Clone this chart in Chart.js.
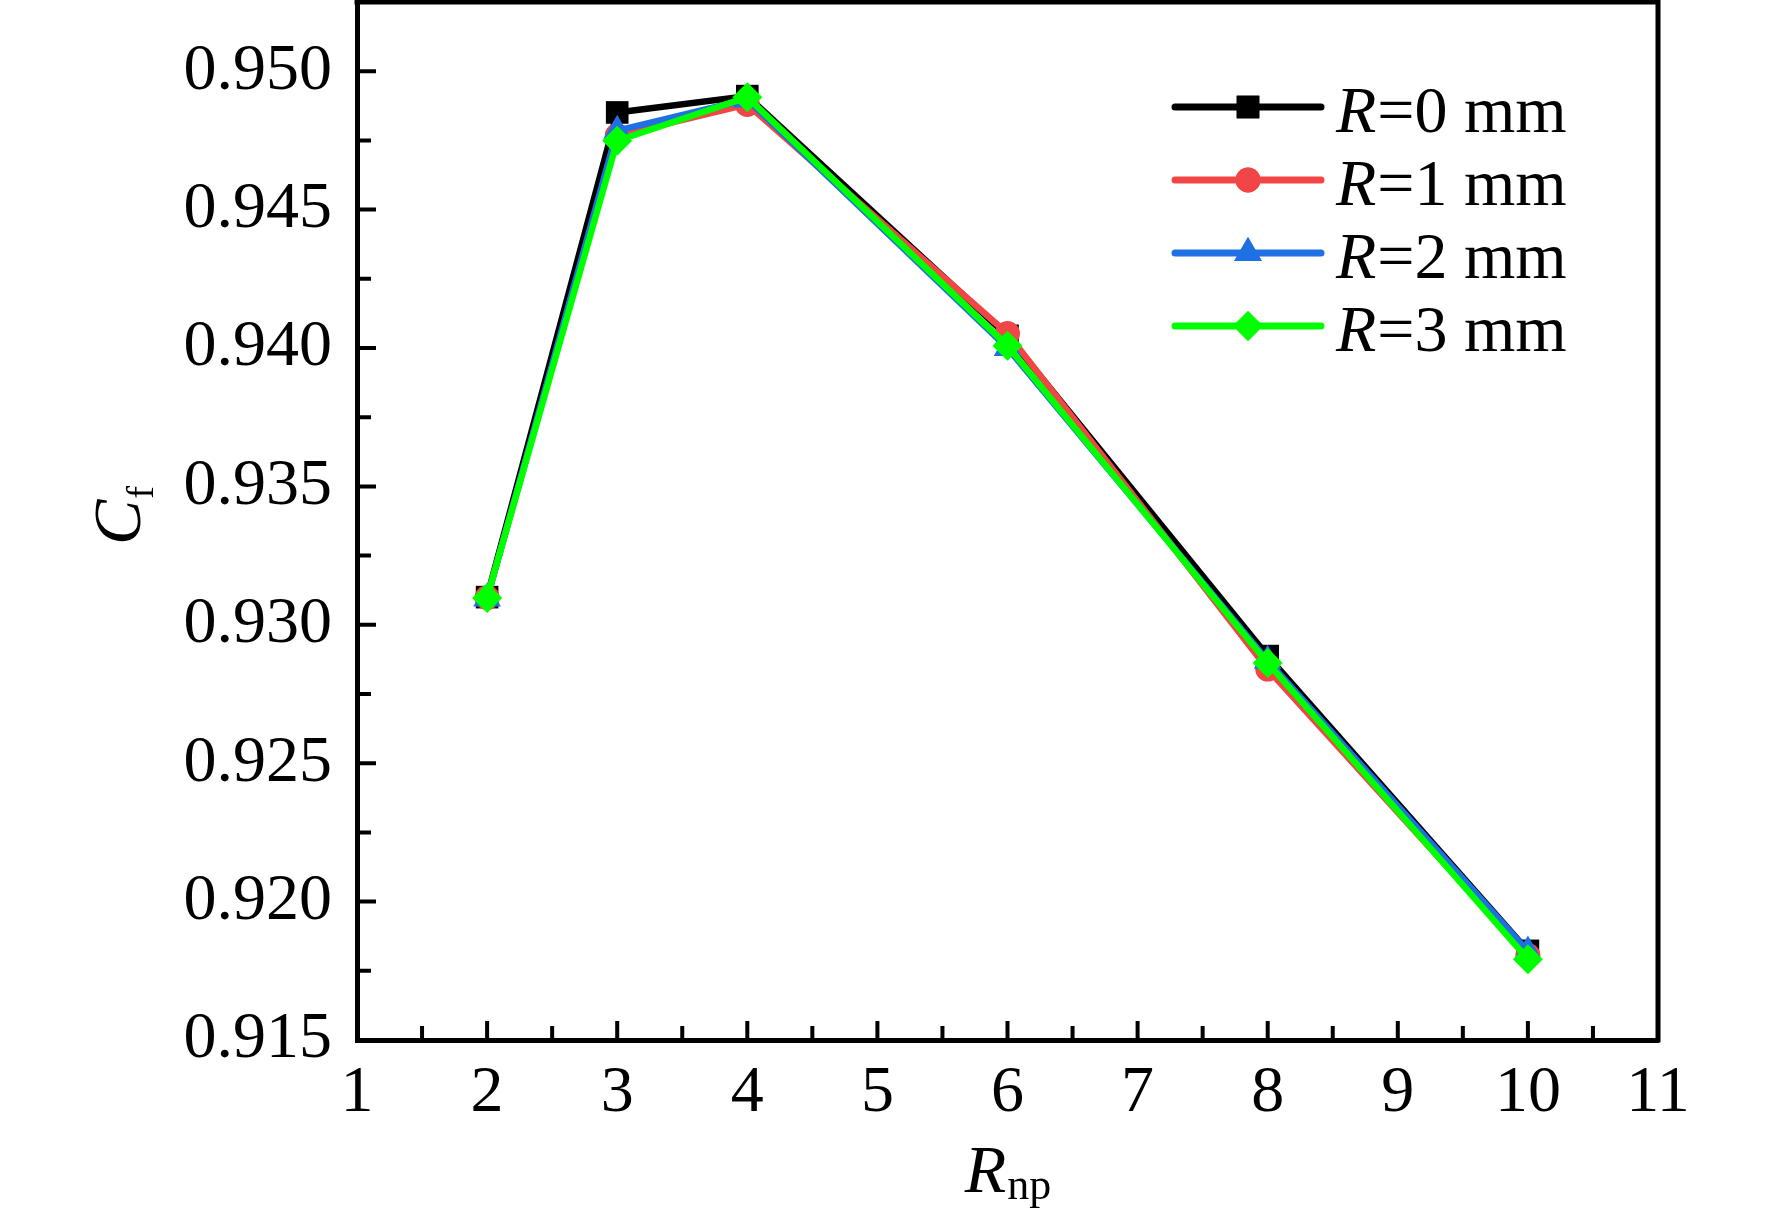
<!DOCTYPE html>
<html>
<head>
<meta charset="utf-8">
<script src="https://cdn.jsdelivr.net/npm/chart.js@4.4.1/dist/chart.umd.min.js"></script>
<style>
  html, body { margin: 0; padding: 0; background: #fff; }
  #wrap { width: 1772px; height: 1226px; }
</style>
</head>
<body>
<div id="wrap"><canvas id="cfChart" width="1772" height="1226"></canvas></div>
<script>
// x values (R_np) and C_f for each fillet radius R
const rnp = [2, 3, 4, 6, 8, 10];
const radiusMm = ['0', '1', '2', '3'];
const cfR0 = [0.93100, 0.94851, 0.94910, 0.94044, 0.92887, 0.91822];
const cfR1 = [0.93098, 0.94767, 0.94880, 0.94052, 0.92840, 0.91805];
const cfR2 = [0.93095, 0.94785, 0.94898, 0.94000, 0.92870, 0.91820];
const cfR3 = [0.93097, 0.94749, 0.94906, 0.94008, 0.92862, 0.91792];

// tick values / labels
const xTicks = [1, 2, 3, 4, 5, 6, 7, 8, 9, 10, 11];
const xTickLabels = ['1', '2', '3', '4', '5', '6', '7', '8', '9', '10', '11'];
const xMinor = [1.5, 2.5, 3.5, 4.5, 5.5, 6.5, 7.5, 8.5, 9.5, 10.5];
const yTicks = [0.915, 0.920, 0.925, 0.930, 0.935, 0.940, 0.945, 0.950];
const yTickLabels = ['0.915', '0.920', '0.925', '0.930', '0.935', '0.940', '0.945', '0.950'];
const yMinor = [0.9175, 0.9225, 0.9275, 0.9325, 0.9375, 0.9425, 0.9475];

// styles
const lineColors = ['#000000', '#f24646', '#1f6fe5', '#00ff00'];
const markers = ['rect', 'circle', 'triangle', 'rectRot'];
const markerSize = [16, 12.5, 16, 15];
const serif = "'Liberation Serif', 'Times New Roman', serif";

const cfSeries = [cfR0, cfR1, cfR2, cfR3];

// inward ticks, top/right frame, axis titles and legend
const decorations = {
    id: 'decorations',
    afterDraw: function (chart) {
        const ctx = chart.ctx;
        const a = chart.chartArea;
        const x = chart.scales.x;
        const y = chart.scales.y;
        ctx.save();

        // frame
        ctx.strokeStyle = '#000';
        ctx.lineWidth = 5;
        ctx.lineCap = 'square';
        ctx.beginPath();
        ctx.moveTo(a.left, a.top);
        ctx.lineTo(a.right, a.top);
        ctx.lineTo(a.right, a.bottom);
        ctx.stroke();

        // ticks pointing in
        ctx.lineCap = 'butt';
        ctx.lineWidth = 4;
        ctx.beginPath();
        xTicks.forEach(function (v) {
            const px = x.getPixelForValue(v);
            ctx.moveTo(px, a.bottom); ctx.lineTo(px, a.bottom - 19);
        });
        xMinor.forEach(function (v) {
            const px = x.getPixelForValue(v);
            ctx.moveTo(px, a.bottom); ctx.lineTo(px, a.bottom - 14);
        });
        yTicks.forEach(function (v) {
            const py = y.getPixelForValue(v);
            ctx.moveTo(a.left, py); ctx.lineTo(a.left + 19, py);
        });
        yMinor.forEach(function (v) {
            const py = y.getPixelForValue(v);
            ctx.moveTo(a.left, py); ctx.lineTo(a.left + 14, py);
        });
        ctx.stroke();

        ctx.fillStyle = '#000';
        ctx.textBaseline = 'alphabetic';
        ctx.textAlign = 'left';

        // x title: R_np
        ctx.font = 'italic 68px ' + serif;
        const wR = ctx.measureText('R').width;
        ctx.font = '44px ' + serif;
        const wNp = ctx.measureText('np').width;
        let sx = (a.left + a.right) / 2 - (wR + wNp) / 2;
        ctx.font = 'italic 68px ' + serif;
        ctx.fillText('R', sx, 1192);
        ctx.font = '44px ' + serif;
        ctx.fillText('np', sx + wR + 1, 1199);

        // y title: C_f
        ctx.save();
        ctx.translate(140, 516);
        ctx.rotate(-Math.PI / 2);
        ctx.font = 'italic 68px ' + serif;
        const wC = ctx.measureText('C').width;
        ctx.font = '38px ' + serif;
        const wF = ctx.measureText('f').width;
        sx = -(wC + wF) / 2;
        ctx.font = 'italic 68px ' + serif;
        ctx.fillText('C', sx, 0);
        ctx.font = '38px ' + serif;
        ctx.fillText('f', sx + wC + 1, 13);
        ctx.restore();

        // legend
        chart.data.datasets.forEach(function (ds, i) {
            const rowY = 107 + i * 73;
            ctx.strokeStyle = ds.borderColor;
            ctx.lineWidth = 7;
            ctx.lineCap = 'round';
            ctx.beginPath();
            ctx.moveTo(1175, rowY);
            ctx.lineTo(1321, rowY);
            ctx.stroke();
            ctx.fillStyle = ds.pointBackgroundColor;
            Chart.helpers.drawPoint(ctx, {
                pointStyle: ds.pointStyle,
                radius: ds.pointRadius,
                rotation: 0,
                borderWidth: 0
            }, 1248, rowY);
            ctx.fill();

            ctx.fillStyle = '#000';
            ctx.font = 'italic 66px ' + serif;
            ctx.fillText('R', 1336, rowY + 25);
            const w = ctx.measureText('R').width;
            ctx.font = '66px ' + serif;
            ctx.fillText('=' + radiusMm[i] + ' mm', 1336 + w + 1, rowY + 25);
        });

        ctx.restore();
    }
};

const canvas = document.getElementById('cfChart');
new Chart(canvas.getContext('2d'), {
    type: 'line',
    data: {
        datasets: radiusMm.map(function (r, i) {
            return {
                label: 'R=' + r + ' mm',
                data: rnp.map(function (v, j) { return { x: v, y: cfSeries[i][j] }; }),
                borderColor: lineColors[i],
                backgroundColor: lineColors[i],
                borderWidth: 6.5,
                pointStyle: markers[i],
                pointRadius: markerSize[i],
                pointBackgroundColor: lineColors[i],
                pointBorderColor: lineColors[i],
                pointBorderWidth: 0,
                tension: 0,
                fill: false,
                order: 3 - i
            };
        })
    },
    options: {
        responsive: false,
        animation: false,
        devicePixelRatio: 1,
        layout: { autoPadding: false, padding: { top: 2, right: 114, bottom: 0, left: 0 } },
        plugins: {
            legend: { display: false },
            tooltip: { enabled: false }
        },
        scales: {
            x: {
                type: 'linear',
                min: 1,
                max: 11,
                afterBuildTicks: function (s) { s.ticks = xTicks.map(function (v) { return { value: v }; }); },
                afterFit: function (s) { s.height = 186; s.paddingLeft = 0; s.paddingRight = 0; },
                grid: { display: false, drawTicks: false },
                border: { display: true, color: '#000', width: 5 },
                ticks: {
                    autoSkip: false,
                    maxRotation: 0,
                    padding: 14,
                    color: '#000',
                    font: { family: serif, size: 66 },
                    callback: function (v, i) { return xTickLabels[i]; }
                }
            },
            y: {
                type: 'linear',
                min: 0.915,
                max: 0.9525,
                afterBuildTicks: function (s) { s.ticks = yTicks.map(function (v) { return { value: v }; }); },
                afterFit: function (s) { s.width = 357; s.paddingTop = 0; s.paddingBottom = 0; },
                grid: { display: false, drawTicks: false },
                border: { display: true, color: '#000', width: 5 },
                ticks: {
                    padding: 25,
                    color: '#000',
                    font: { family: serif, size: 66 },
                    callback: function (v, i) { return yTickLabels[i]; }
                }
            }
        }
    },
    plugins: [decorations]
});
</script>
</body>
</html>
